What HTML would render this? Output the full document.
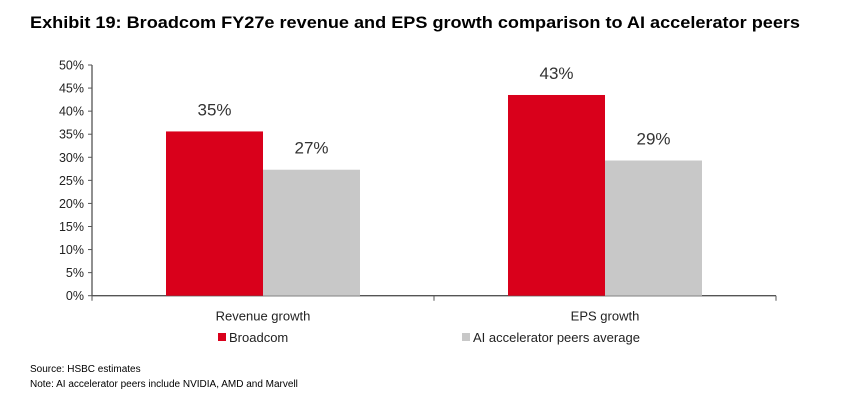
<!DOCTYPE html>
<html><head><meta charset="utf-8"><style>
body{margin:0;background:#fff;width:845px;height:410px;overflow:hidden;font-family:"Liberation Sans",Arial,sans-serif}
svg{display:block}
</style></head><body>
<svg width="845" height="410" id="chart">
<text x="30" y="28" font-size="17" font-weight="bold" fill="#000" textLength="770" lengthAdjust="spacingAndGlyphs">Exhibit 19: Broadcom FY27e revenue and EPS growth comparison to AI accelerator peers</text>
<g id="axes"></g>
<g id="bars"></g>
<g id="legend"></g>
<text x="30" y="372" font-size="10" fill="#000">Source: HSBC estimates</text>
<text x="30" y="387" font-size="10" fill="#000">Note: AI accelerator peers include NVIDIA, AMD and Marvell</text>
</svg>
<script>
const categories=["Revenue growth","EPS growth"];
const broadcom=[35.6,43.5];
const peers=[27.3,29.3];
const broadcomLabels=["35%","43%"];
const peersLabels=["27%","29%"];
const yTicks=[0,5,10,15,20,25,30,35,40,45,50];
const seriesNames=["Broadcom","AI accelerator peers average"];

const NS="http://www.w3.org/2000/svg";
const x0=92,x1=776,y0=295.7,yTop=65,yMax=50;
const y=v=>y0-(v/yMax)*(y0-yTop);
const catW=(x1-x0)/categories.length;
const barW=97;
function mk(tag,attrs,parent,text){const e=document.createElementNS(NS,tag);for(const k in attrs)e.setAttribute(k,attrs[k]);if(text!=null)e.textContent=text;parent.appendChild(e);return e;}
const axes=document.getElementById('axes'),bars=document.getElementById('bars'),legend=document.getElementById('legend');
let e=mk('line',{x1:x0,y1:y(yMax),x2:x0,y2:y0,stroke:'#555','stroke-width':1.3},axes);


yTicks.forEach(t=>{
  let l=mk('line',{x1:x0-4,y1:y(t),x2:x0,y2:y(t),stroke:'#555','stroke-width':1},axes);
  
  
  let tx=mk('text',{x:x0-8,y:y(t)+4.5,'font-size':12.5,'text-anchor':'end',fill:'#222'},axes,t+'%');
  
  
});
e=mk('line',{x1:x0,y1:y0,x2:x1,y2:y0,stroke:'#555','stroke-width':1.3},axes);


for(let i=0;i<=categories.length;i++){
  let l=mk('line',{x1:x0+i*catW,y1:y0,x2:x0+i*catW,y2:y0+5,stroke:'#555','stroke-width':1},axes);
  
  
}
categories.forEach((c,i)=>{
  const cx=x0+catW*(i+0.5);
  let t=mk('text',{x:cx,y:y0+25,'font-size':13,'text-anchor':'middle',fill:'#222'},axes,c);
  
  
  [[broadcom,broadcomLabels,'#d9001b',-1,'broadcom'],[peers,peersLabels,'#c8c8c8',0,'peers']].forEach(([vals,labs,col,off,nm])=>{
    const bx=cx+off*barW;
    let r=mk('rect',{x:bx,y:y(vals[i]),width:barW,height:y0-y(vals[i]),fill:col},bars);
    
    
    let lt=mk('text',{x:bx+barW/2,y:y(vals[i])-16,'font-size':17,'text-anchor':'middle',fill:'#333'},bars,labs[i]);
    
    
  });
});
[[218,'#d9001b',seriesNames[0]],[462,'#c8c8c8',seriesNames[1]]].forEach(([lx,col,name])=>{
  let s=mk('rect',{x:lx,y:333,width:8,height:8,fill:col},legend);
  
  
  let t=mk('text',{x:lx+11,y:342,'font-size':13,fill:'#222'},legend,name);
  
  
});
</script>
</body></html>
